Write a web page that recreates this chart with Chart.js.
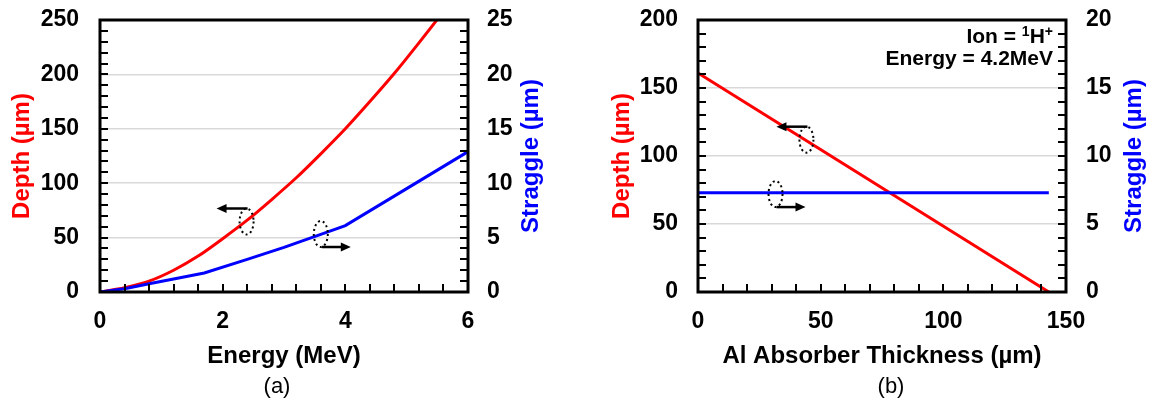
<!DOCTYPE html>
<html>
<head>
<meta charset="utf-8">
<script src="https://cdn.jsdelivr.net/npm/chart.js@4/dist/chart.umd.min.js"></script>
<style>
  body { margin: 0; background: #fff; width: 1151px; height: 401px; overflow: hidden; position: relative;
         font-family: "Liberation Sans", Arial, sans-serif; }
  .panel { position: absolute; top: 0; }
  .cap { position: absolute; top: 373px; font-size: 22px; line-height: 25px; transform: translateX(-50%); color: #000; }
</style>
</head>
<body>
<div class="panel" style="left:0"><canvas id="chartA" width="575" height="401"></canvas></div>
<div class="panel" style="left:575px"><canvas id="chartB" width="576" height="401"></canvas></div>
<div class="cap" style="left:277px">(a)</div>
<div class="cap" style="left:891px">(b)</div>

<script>
// ---- (a) projected range and straggle of protons versus energy ----
const energyMeV     = [0, 0.4, 0.8, 1.2, 1.6, 2.0, 2.4, 2.8, 3.2, 3.6, 4.0, 4.4, 4.8, 5.2, 5.6, 6.0];
const depthA        = [0, 4, 10, 20, 33, 49, 66, 85, 105, 127, 150, 175, 201, 229, 258, 289];
const straggleE     = [0, 0.4, 0.8, 1.2, 1.7, 2.4, 3.0, 3.6, 4.0, 5.0, 6.0];
const straggleA     = [0, 0.3, 0.75, 1.2, 1.75, 3.0, 4.1, 5.3, 6.1, 9.5, 12.9];

// ---- (b) depth and straggle versus Al absorber thickness at 4.2 MeV ----
const thicknessUm   = [0, 143];
const depthB        = [161, 0];
const straggleB     = [7.3, 7.3];

// axis ranges: [min, max, label step, minor step]
const axesA = { x: [0, 6, 2, 0.4], y: [0, 250, 50, 10], y1: [0, 25, 5, 1] };
const axesB = { x: [0, 150, 50, 10], y: [0, 200, 50, 10], y1: [0, 20, 5, 1] };

const FONT = "'Liberation Sans', Arial, sans-serif";
const RED = '#ff0000';
const BLUE = '#0000ff';
Chart.defaults.font.family = FONT;
Chart.defaults.color = '#000';

function toPoints(xs, ys) { return xs.map((x, i) => ({ x: x, y: ys[i] })); }

// black frame plus inward tick marks on left, right and bottom axes
const frameTicks = {
  id: 'frameTicks',
  afterDraw(chart, args, opts) {
    const { ctx, chartArea: a, scales } = chart;
    ctx.save();
    ctx.strokeStyle = '#000';
    ctx.lineWidth = 2;
    const marks = (scale, minor, side) => {
      const n = Math.round((scale.max - scale.min) / minor);
      for (let i = 1; i < n; i++) {
        const p = Math.round(scale.getPixelForValue(scale.min + i * minor));
        ctx.beginPath();
        if (side === 'left')   { ctx.moveTo(a.left, p);   ctx.lineTo(a.left + 8, p); }
        if (side === 'right')  { ctx.moveTo(a.right, p);  ctx.lineTo(a.right - 8, p); }
        if (side === 'bottom') { ctx.moveTo(p, a.bottom); ctx.lineTo(p, a.bottom - 8); }
        ctx.stroke();
      }
    };
    marks(scales.y, opts.minor.y, 'left');
    marks(scales.y1, opts.minor.y1, 'right');
    marks(scales.x, opts.minor.x, 'bottom');
    ctx.lineWidth = 3;
    ctx.strokeRect(a.left, a.top, a.right - a.left, a.bottom - a.top);

    // right-hand axis title, reading upward like the left one
    ctx.save();
    ctx.translate(a.right + opts.rightTitleOffset, (a.top + a.bottom) / 2);
    ctx.rotate(-Math.PI / 2);
    ctx.font = 'bold 24px ' + FONT;
    ctx.fillStyle = BLUE;
    ctx.textAlign = 'center';
    ctx.textBaseline = 'middle';
    ctx.fillText('Straggle (µm)', 0, 0);
    ctx.restore();
    ctx.restore();
  }
};

// dotted ellipse around a curve with an arrow pointing to its axis
const curveMarks = {
  id: 'curveMarks',
  afterDatasetsDraw(chart, args, opts) {
    const { ctx, scales } = chart;
    (opts.items || []).forEach(m => {
      const cx = scales.x.getPixelForValue(m.x);
      const cy = scales[m.axis].getPixelForValue(m.y);
      const rx = 7, ry = 13, dir = m.dir;
      ctx.save();
      ctx.strokeStyle = '#000';
      ctx.fillStyle = '#000';
      ctx.lineWidth = 2;
      ctx.setLineDash([2, 3]);
      ctx.beginPath();
      ctx.ellipse(cx, cy, rx, ry, 0, 0, Math.PI * 2);
      ctx.stroke();
      ctx.setLineDash([]);
      const ay = dir < 0 ? cy - ry : cy + ry;
      const x1 = cx + dir * 30;
      ctx.lineWidth = 2.5;
      ctx.beginPath();
      ctx.moveTo(cx + 1, ay);
      ctx.lineTo(x1 - dir * 6, ay);
      ctx.stroke();
      ctx.beginPath();
      ctx.moveTo(x1, ay);
      ctx.lineTo(x1 - dir * 10, ay - 4.5);
      ctx.lineTo(x1 - dir * 10, ay + 4.5);
      ctx.closePath();
      ctx.fill();
      ctx.restore();
    });
  }
};

// right-aligned note with superscripts in the upper right corner
const cornerNote = {
  id: 'cornerNote',
  afterDraw(chart, args, opts) {
    if (!opts.lines) return;
    const { ctx, chartArea: a } = chart;
    ctx.save();
    ctx.fillStyle = '#000';
    ctx.textBaseline = 'alphabetic';
    ctx.textAlign = 'left';
    opts.lines.forEach((parts, li) => {
      const base = a.top + 23 + li * 22;
      const widths = parts.map(p => {
        ctx.font = 'bold ' + (p.sup ? 14 : 21) + 'px ' + FONT;
        return ctx.measureText(p.t).width;
      });
      let x = a.right - 13 - widths.reduce((s, w) => s + w, 0);
      parts.forEach((p, i) => {
        ctx.font = 'bold ' + (p.sup ? 14 : 21) + 'px ' + FONT;
        ctx.fillText(p.t, x, p.sup ? base - 7 : base);
        x += widths[i];
      });
    });
    ctx.restore();
  }
};

// fixed axis box sizes; label overhang is handled by the layout padding instead
function fixBox(size, horizontal) {
  return s => {
    if (horizontal) s.height = size; else s.width = size;
    s.paddingTop = 0; s.paddingBottom = 0; s.paddingLeft = 0; s.paddingRight = 0;
  };
}

function makeChart(id, cfg) {
  const ax = cfg.axes;
  const tickFont = { size: 23, weight: 'bold' };
  const titleFont = { size: 24, weight: 'bold' };
  return new Chart(document.getElementById(id), {
    type: 'line',
    data: {
      datasets: [
        { label: 'Depth', data: cfg.depth, yAxisID: 'y', borderColor: RED, borderWidth: 3,
          pointRadius: 0, fill: false, cubicInterpolationMode: 'monotone', order: 2 },
        { label: 'Straggle', data: cfg.straggle, yAxisID: 'y1', borderColor: BLUE, borderWidth: 3,
          pointRadius: 0, fill: false, tension: 0, order: 1 }
      ]
    },
    options: {
      responsive: false,
      animation: false,
      events: [],
      layout: { padding: { top: 20, bottom: 30, left: 0, right: 0 } },
      plugins: {
        legend: { display: false },
        tooltip: { enabled: false },
        frameTicks: { minor: { x: ax.x[3], y: ax.y[3], y1: ax.y1[3] }, rightTitleOffset: cfg.rightTitleOffset },
        curveMarks: { items: cfg.marks },
        cornerNote: { lines: cfg.note }
      },
      scales: {
        x: {
          type: 'linear', min: ax.x[0], max: ax.x[1],
          ticks: { stepSize: ax.x[2], font: tickFont, padding: 16, autoSkip: false, maxRotation: 0 },
          grid: { display: false, drawTicks: false },
          border: { display: false },
          title: { display: true, text: cfg.xTitle, font: titleFont, padding: { top: 0, bottom: 0 } },
          afterFit: fixBox(79, true)
        },
        y: {
          type: 'linear', position: 'left', min: ax.y[0], max: ax.y[1],
          ticks: { stepSize: ax.y[2], font: tickFont, padding: cfg.padY, autoSkip: false },
          grid: { drawTicks: false, color: '#d9d9d9', lineWidth: 1.5 },
          border: { display: false },
          title: { display: true, text: 'Depth (µm)', color: RED, font: titleFont, padding: { top: cfg.titleY, bottom: 0 } },
          afterFit: fixBox(cfg.wY, false)
        },
        y1: {
          type: 'linear', position: 'right', min: ax.y1[0], max: ax.y1[1],
          ticks: { stepSize: ax.y1[2], font: tickFont, padding: cfg.padY1, autoSkip: false },
          grid: { display: false, drawTicks: false },
          border: { display: false },
          title: { display: false },
          afterFit: fixBox(cfg.wY1, false)
        }
      }
    },
    plugins: [frameTicks, curveMarks, cornerNote]
  });
}

makeChart('chartA', {
  axes: axesA,
  depth: toPoints(energyMeV, depthA),
  straggle: toPoints(straggleE, straggleA),
  xTitle: 'Energy (MeV)',
  wY: 100, wY1: 107, padY: 21, padY1: 19, titleY: 8, rightTitleOffset: 63.5,
  marks: [
    { x: 2.39, y: 64.8, axis: 'y', dir: -1 },
    { x: 3.6, y: 5.33, axis: 'y1', dir: 1 }
  ],
  note: null
});

makeChart('chartB', {
  axes: axesB,
  depth: toPoints(thicknessUm, depthB),
  straggle: toPoints(thicknessUm, straggleB),
  xTitle: 'Al Absorber Thickness (µm)',
  wY: 123, wY1: 85, padY: 20, padY1: 20, titleY: 33, rightTitleOffset: 68.5,
  marks: [
    { x: 44.2, y: 112, axis: 'y', dir: -1 },
    { x: 31.6, y: 7.2, axis: 'y1', dir: 1 }
  ],
  note: [
    [{ t: 'Ion = ' }, { t: '1', sup: true }, { t: 'H' }, { t: '+', sup: true }],
    [{ t: 'Energy = 4.2MeV' }]
  ]
});
</script>
</body>
</html>
